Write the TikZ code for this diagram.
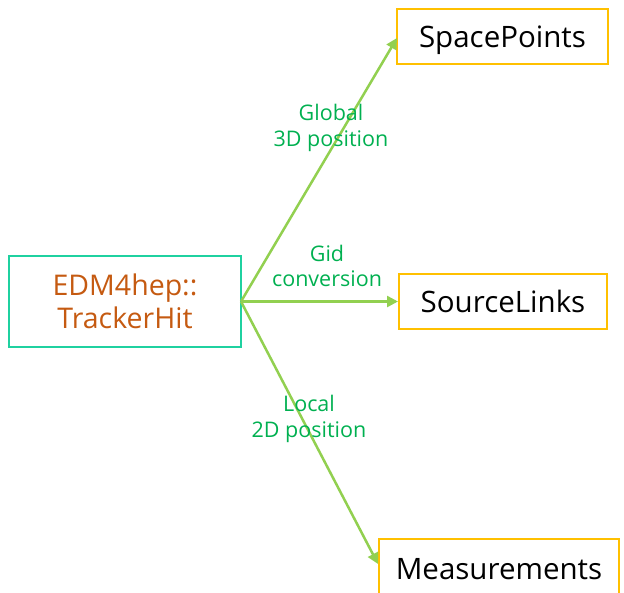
\documentclass[tikz,border=0pt]{standalone}
\usepackage{fontspec}
\setmainfont{Open Sans}
\usetikzlibrary{arrows.meta}
\definecolor{teal}{HTML}{1FD1A0}
\definecolor{gold}{HTML}{FFC000}
\definecolor{rust}{HTML}{C55A11}
\definecolor{leaf}{HTML}{92D050}
\definecolor{labelgreen}{HTML}{00B050}
\tikzset{
  hitbox/.style={draw=teal, line width=2pt, minimum width=232pt, minimum height=91pt,
    align=center, text=rust, font=\fontsize{28.5}{33}\selectfont, inner sep=0pt},
  outbox/.style={draw=gold, line width=2pt, minimum height=55pt, inner sep=0pt,
    text height=21pt, text depth=0pt, font=\fontsize{29.5}{33}\selectfont},
  flow/.style={draw=leaf, line width=2.5pt, -{Triangle[length=11pt,width=11pt]}},
  tag/.style={text=labelgreen, align=center, font=\fontsize{21.5}{25.5}\selectfont, inner sep=0pt}
}
\begin{document}
\begin{tikzpicture}[x=1pt,y=-1pt]
  \useasboundingbox (0,0) rectangle (624,592);
  \begin{scope}
    \clip (0,0) rectangle (624,592);
    \node[hitbox] (hit) at (125,301.5) {EDM4hep::\\TrackerHit};
    \node[outbox, minimum width=211pt] (sp) at (502.5,36.5) {SpacePoints};
    \node[outbox, minimum width=208pt] (sl) at (503,301.5) {SourceLinks};
    \node[outbox, minimum width=240pt, minimum height=60pt] (ms) at (499,569) {Measurements};
    \coordinate (src) at (241,301.5);
    \coordinate (spin) at (397,38);
    \coordinate (msin) at (378,564);
    \draw[flow] (src) -- (spin);
    \draw[flow] (src) -- (sl.west);
    \draw[flow] (src) -- (msin);
    \node[tag] (l1) at (331,128) {Global\\3D position};
    \node[tag] (l2) at (327,266) {Gid\\conversion};
    \node[tag] (l3) at (309,419) {Local\\2D position};
  \end{scope}
\end{tikzpicture}
\end{document}
